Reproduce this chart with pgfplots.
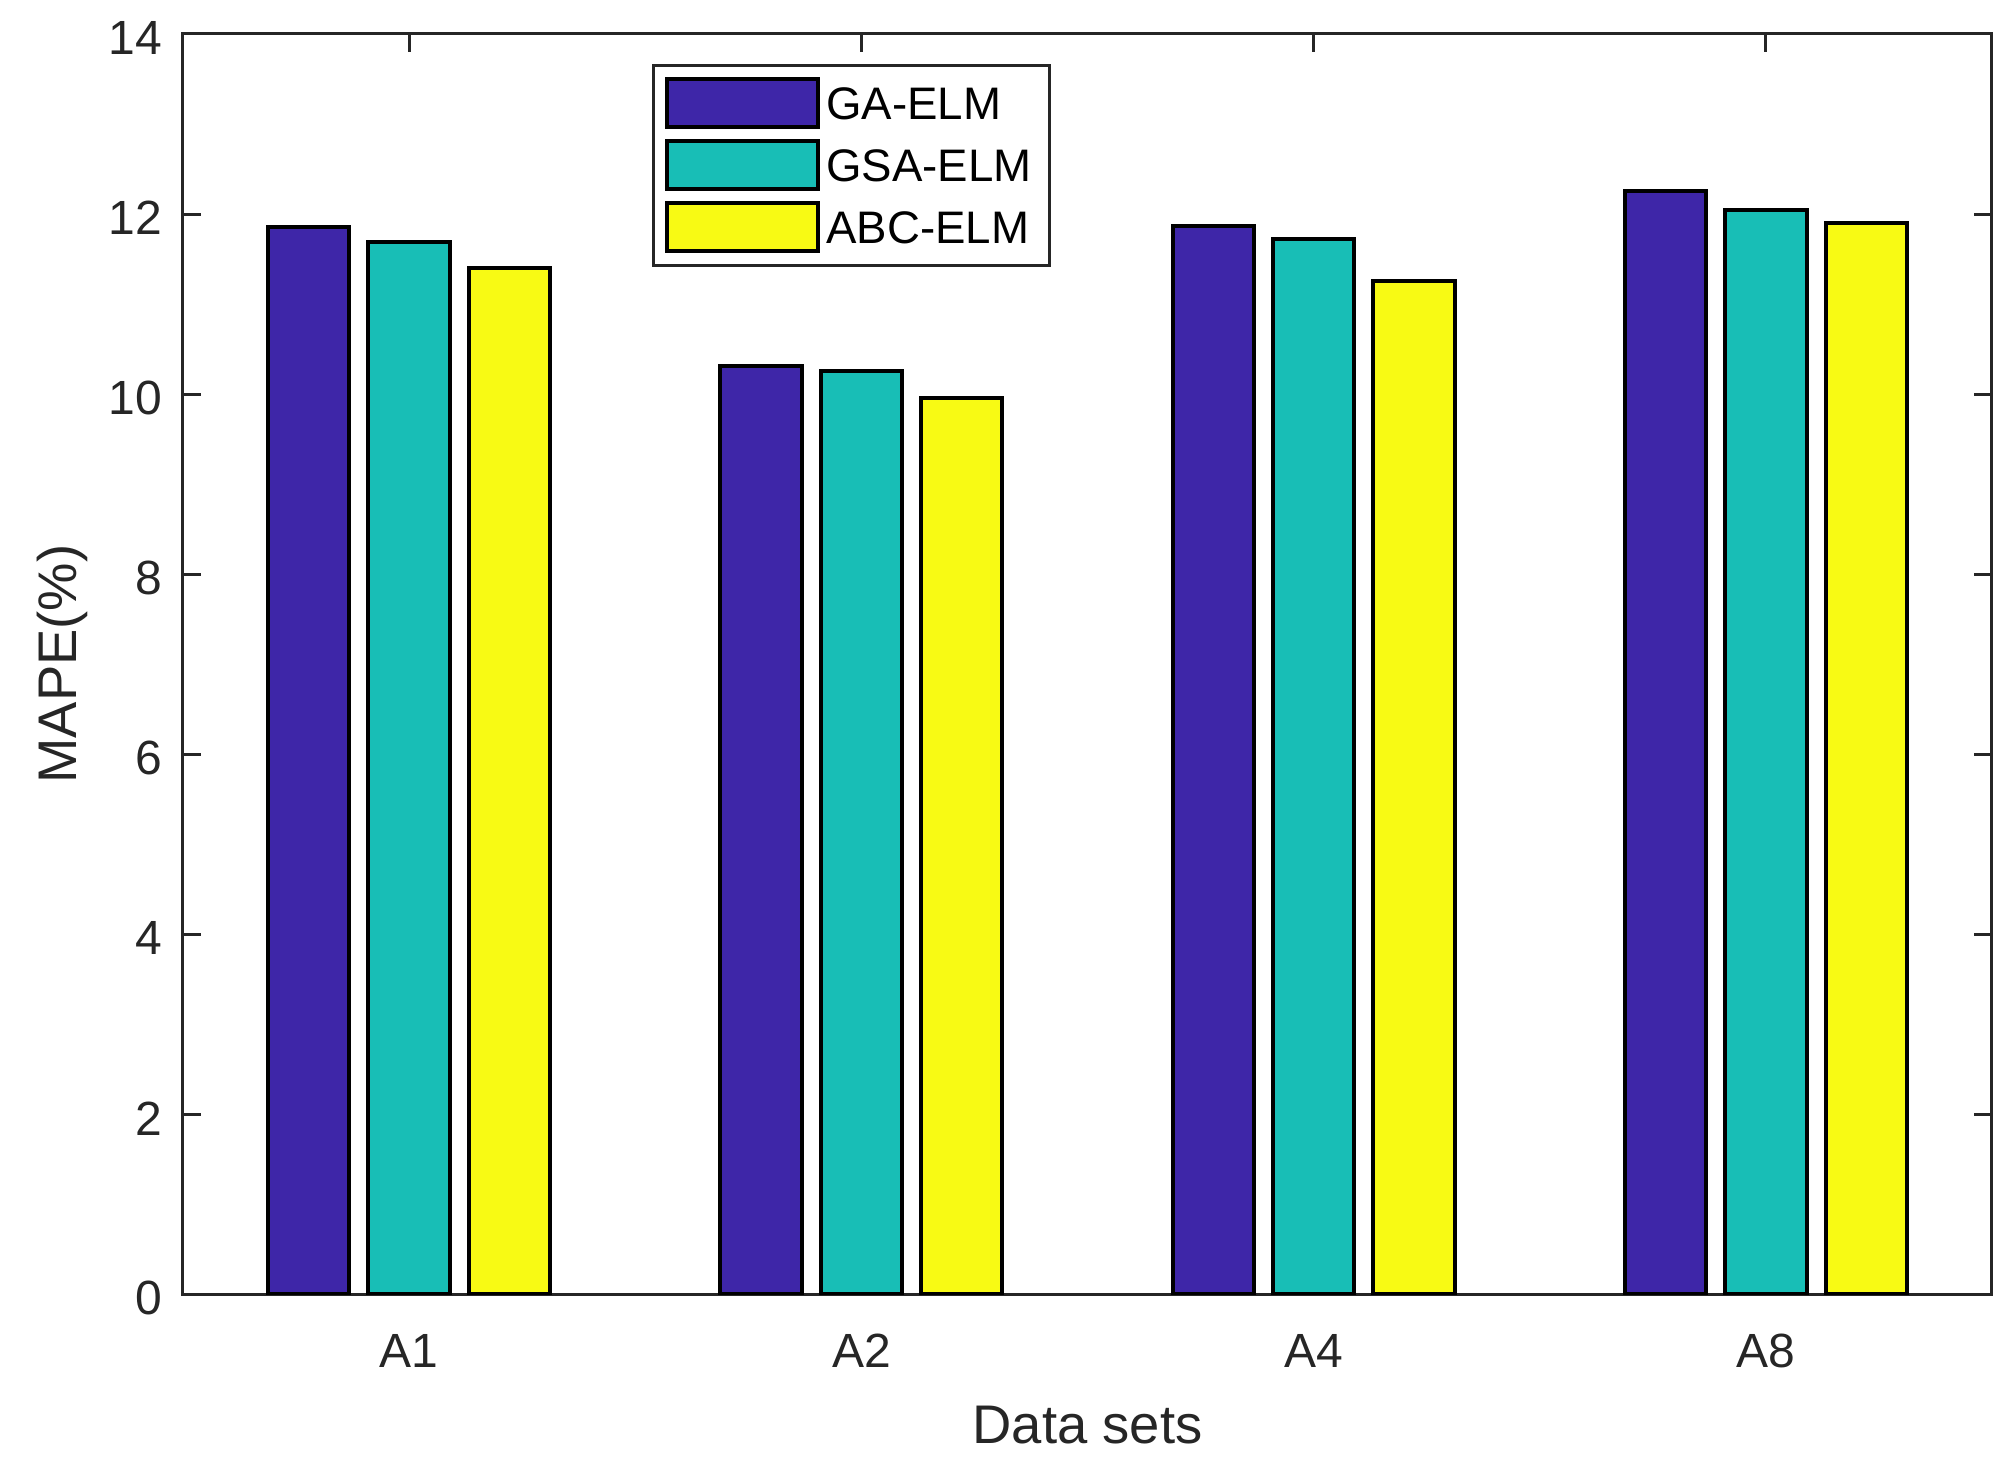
\documentclass[border=0pt]{standalone}
\usepackage{pgfplots}
\pgfplotsset{compat=1.18}
\usepackage{fontspec}
\setmainfont{Liberation Sans}
\definecolor{axcol}{HTML}{262626}
\definecolor{gacol}{HTML}{3E26A8}
\definecolor{gsacol}{HTML}{18BEB6}
\definecolor{abccol}{HTML}{F8FA14}
\pgfplotsset{mybarlegend/.style={legend image code/.code={\draw[##1] (0pt,-6pt) rectangle (37.75pt,6pt);}}}
\begin{document}
\begin{tikzpicture}
\begin{axis}[name=ax, scale only axis, width=452.25pt, height=315.1pt,
  xmin=0.5, xmax=4.5, ymin=0, ymax=14,
  ybar, bar width=0.18,
  xtick={1,2,3,4}, xticklabels={A1,A2,A4,A8},
  ytick={0,2,...,14},
  axis line style={draw=axcol, line width=0.75pt},
  every tick/.style={draw=axcol, line width=0.75pt},
  major tick length=4.6pt,
  xtick pos=both, ytick pos=both,
  xtick align=inside, ytick align=inside,
  /pgf/number format/assume math mode=true,
  ticklabel style={font=\fontsize{12}{14}\selectfont, text=axcol},
  xticklabel style={anchor=base, yshift=-18.25pt},
  yticklabel style={xshift=-1.75pt, yshift=-1pt},
  xlabel={Data sets}, ylabel={MAPE(\%)},
  label style={font=\fontsize{13.6}{16}\selectfont, text=axcol},
  xlabel style={at={(axis description cs:0.5,-0.1182)}, anchor=base},
  ylabel style={at={(axis description cs:-0.0591,0.5)}, anchor=base},
  legend cell align=left,
  legend style={at={(rel axis cs:0.2593,0.9762)}, anchor=north west, draw=axcol, line width=0.65pt,
    font=\fontsize{11.4}{13}\selectfont, inner xsep=3pt, inner ysep=3pt, row sep=2.5pt,
    nodes={inner xsep=1.5pt, inner ysep=0pt, text depth=0pt}},
]
\addplot[ybar, bar shift=-0.222, fill=gacol, draw=black, line width=1pt, mybarlegend]
  coordinates {(1,11.86) (2,10.31) (3,11.87) (4,12.26)};
\addplot[ybar, bar shift=0, fill=gsacol, draw=black, line width=1pt, mybarlegend]
  coordinates {(1,11.69) (2,10.26) (3,11.72) (4,12.05)};
\addplot[ybar, bar shift=0.222, fill=abccol, draw=black, line width=1pt, mybarlegend]
  coordinates {(1,11.40) (2,9.96) (3,11.26) (4,11.90)};
\legend{GA-ELM, GSA-ELM, ABC-ELM}
\end{axis}
\pgfresetboundingbox
\path ([shift={(-45.75pt,-44.6pt)}]ax.south west) rectangle ([shift={(5.5pt,8.5pt)}]ax.north east);
\end{tikzpicture}
\end{document}
